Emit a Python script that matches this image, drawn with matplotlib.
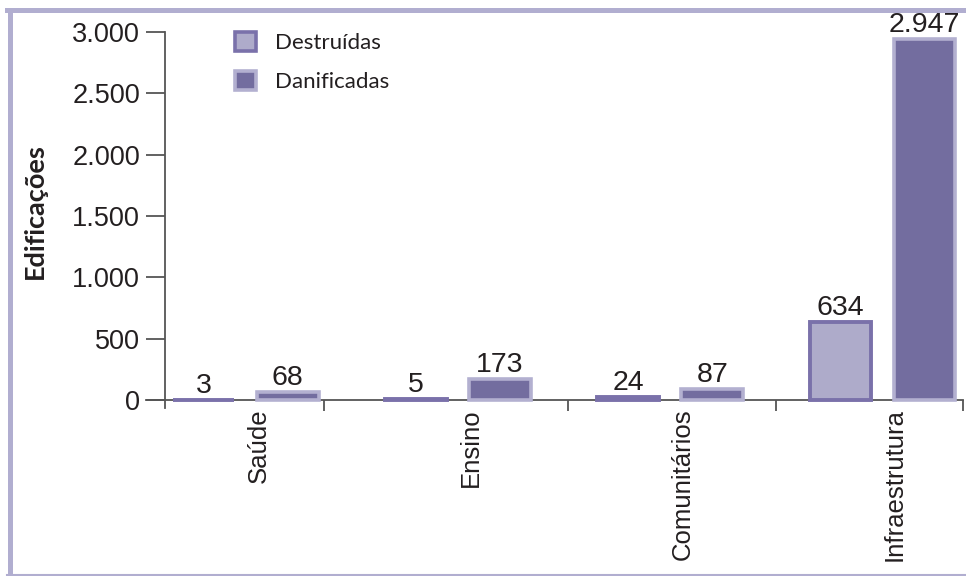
import matplotlib
matplotlib.use("Agg")
import matplotlib.pyplot as plt
from matplotlib.patches import Patch
from matplotlib.lines import Line2D
import numpy as np

categories = ["Saúde", "Ensino", "Comunitários", "Infraestrutura"]
destruidas = [3, 5, 24, 634]
danificadas = [68, 173, 87, 2947]
value_labels_d = ["3", "5", "24", "634"]
value_labels_n = ["68", "173", "87", "2.947"]
yticks = [0, 500, 1000, 1500, 2000, 2500, 3000]
yticklabels = ["0", "500", "1.000", "1.500", "2.000", "2.500", "3.000"]
series_names = ["Destruídas", "Danificadas"]

light_fill = "#aeabca"
light_edge = "#7a71aa"
dark_fill = "#736d9f"
dark_edge = "#b3b0d0"
frame_col = "#b1aed0"
text_col = "#231f20"
axis_col = "#555555"

W, H = 966, 576
fig = plt.figure(figsize=(W / 100, H / 100), dpi=100)

ax = fig.add_axes([146 / W, (H - 408) / H, 817 / W, 376 / H])
x = np.arange(len(categories))
off = 0.198
bw = 0.29

ax.bar(x - off, destruidas, bw, facecolor=light_fill, edgecolor=light_edge, linewidth=2.8, zorder=3)
ax.bar(x + off, danificadas, bw, facecolor=dark_fill, edgecolor=dark_edge, linewidth=2.6, zorder=3)

tfont = dict(family=["Liberation Sans", "DejaVu Sans"], size=20.5, color=text_col)
for xi, v, lab in zip(x - off, destruidas, value_labels_d):
    ax.text(xi, v + 8, lab, ha="center", va="bottom", **tfont)
for xi, v, lab in zip(x + off, danificadas, value_labels_n):
    ax.text(xi, v + 8, lab, ha="center", va="bottom", **tfont)

ax.set_xlim(-0.47, 3.38)
ax.set_ylim(-65, 3000)
ax.spines["left"].set_position(("data", -0.38))
ax.spines["bottom"].set_position(("data", 0))
ax.spines["right"].set_visible(False)
ax.spines["top"].set_visible(False)
for s in ("left", "bottom"):
    ax.spines[s].set_color(axis_col)
    ax.spines[s].set_linewidth(1.3)

ax.set_yticks(yticks)
ax.set_yticklabels(yticklabels, fontfamily=["Liberation Sans", "DejaVu Sans"], fontsize=19.5, color=text_col)
ax.tick_params(axis="y", direction="out", length=14, width=1.3, color=axis_col, pad=4)

ax.set_xticks(x + 0.06)
ax.set_xticklabels(categories, rotation=90, fontfamily=["Liberation Sans", "DejaVu Sans"], fontsize=18.5, color=text_col)
ax.tick_params(axis="x", which="major", length=0, pad=6)
ax.set_xticks([0.37, 1.52, 2.50, 3.38], minor=True)
ax.tick_params(axis="x", which="minor", direction="out", length=8, width=1.3, color=axis_col)

fig.text(35 / W, 1 - 211 / H, "Edificações", rotation=90, ha="center", va="center",
         fontfamily=["Lato", "DejaVu Sans"], fontweight="bold", fontsize=19.5, color=text_col)

handles = [Patch(facecolor=light_fill, edgecolor=light_edge, linewidth=2.6),
           Patch(facecolor=dark_fill, edgecolor=dark_edge, linewidth=2.6)]
leg = fig.legend(handles, series_names, loc="upper left", bbox_to_anchor=(215 / W, 1 - 12 / H),
                 frameon=False, handlelength=0.95, handleheight=0.95, handletextpad=0.85,
                 labelspacing=0.8, prop={"family": ["Lato", "DejaVu Sans"], "size": 16})
for t in leg.get_texts():
    t.set_color(text_col)

# frame
fig.add_artist(Line2D([9.5 / W, 9.5 / W], [0, 1 - 9.5 / H], transform=fig.transFigure, color=frame_col, linewidth=3.6))
fig.add_artist(Line2D([7 / W, 1], [1 - 9.5 / H, 1 - 9.5 / H], transform=fig.transFigure, color=frame_col, linewidth=3.6))
fig.add_artist(Line2D([7 / W, 1], [1.5 / H, 1.5 / H], transform=fig.transFigure, color=frame_col, linewidth=1.5))

fig.savefig("out.png", dpi=100)
